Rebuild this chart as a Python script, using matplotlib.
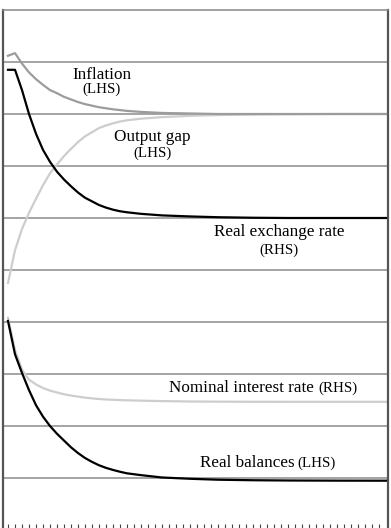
"""
plot.py - impulse responses, five series on a shared stacked panel
"""

import matplotlib
matplotlib.use('Agg')
import matplotlib.pyplot as plt

# periods after the shock
periods = [0, 1, 2, 3, 4, 5, 6, 7, 8, 9, 10, 11, 12, 13, 14, 15, 16, 17,
           19, 22, 26, 30, 35, 40, 47, 54]

# in the panel's own units (gridlines at 1..9)
inflation = [9.12, 9.17, 8.97, 8.80, 8.67, 8.56, 8.46, 8.40, 8.33, 8.28,
             8.23, 8.19, 8.16, 8.13, 8.11, 8.09, 8.075, 8.06,
             8.04, 8.02, 8.01, 8.00, 8.00, 8.00, 8.00, 8.00]
output_gap = [4.75, 5.38, 5.79, 6.10, 6.37, 6.63, 6.86, 7.03, 7.19, 7.33,
              7.46, 7.57, 7.65, 7.73, 7.78, 7.82, 7.855, 7.88,
              7.91, 7.94, 7.965, 7.98, 7.99, 7.995, 8.00, 8.00]
real_exch = [8.85, 8.85, 8.46, 8.00, 7.62, 7.31, 7.08, 6.89, 6.74, 6.61,
             6.49, 6.39, 6.32, 6.25, 6.20, 6.16, 6.13, 6.11,
             6.08, 6.05, 6.03, 6.015, 6.005, 6.00, 6.00, 6.00]
nominal_rate = [4.08, 3.46, 3.08, 2.89, 2.80, 2.73, 2.68, 2.645, 2.61, 2.585,
                2.565, 2.546, 2.531, 2.519, 2.51, 2.504, 2.498, 2.494,
                2.487, 2.479, 2.471, 2.468, 2.466, 2.465, 2.465, 2.465]
real_bal = [4.02, 3.38, 3.02, 2.69, 2.40, 2.18, 2.00, 1.85, 1.72, 1.59,
            1.48, 1.385, 1.31, 1.245, 1.195, 1.155, 1.12, 1.09,
            1.055, 1.01, 0.985, 0.967, 0.957, 0.952, 0.949, 0.948]

grid_levels = [1, 2, 3, 4, 5, 6, 7, 8, 9]
tick_periods = list(range(0, 54))

SERIF = ['Liberation Serif', 'DejaVu Serif']
BIG, SMALL = 12.3, 10.8

fig = plt.figure(figsize=(3.91, 5.28), dpi=100)
ax = fig.add_axes([3 / 391, 0.0, 385 / 391, 518 / 528])

# horizontal guides
for lv in grid_levels:
    ax.axhline(lv, color='#8c8c8c', lw=1.1, zorder=1)

# gray series first, black on top
ax.plot(periods, output_gap, color='#cdcdcd', lw=1.6, zorder=2)
ax.plot(periods, nominal_rate, color='#cdcdcd', lw=1.6, zorder=2)
ax.plot(periods, inflation, color='#9c9c9c', lw=1.6, zorder=3)
ax.plot(periods, real_exch, color='black', lw=1.6, zorder=4)
ax.plot(periods, real_bal, color='black', lw=1.6, zorder=4)

ax.set_xlim(-5 / 7, 380 / 7)
ax.set_ylim(2 / 52, 10)

# labels
ax.text(13.36, 8.75, 'Inflation', family=SERIF, fontsize=BIG, ha='center', va='center')
ax.text(13.29, 8.48, '(LHS)', family=SERIF, fontsize=SMALL, ha='center', va='center')
ax.text(20.64, 7.56, 'Output gap', family=SERIF, fontsize=BIG, ha='center', va='center')
ax.text(20.71, 7.25, '(LHS)', family=SERIF, fontsize=SMALL, ha='center', va='center')
ax.text(38.71, 5.73, 'Real exchange rate', family=SERIF, fontsize=BIG, ha='center', va='center')
ax.text(38.71, 5.385, '(RHS)', family=SERIF, fontsize=SMALL, ha='center', va='center')
ax.text(23.0, 2.73, 'Nominal interest rate', family=SERIF, fontsize=BIG, ha='left', va='center')
ax.text(44.29, 2.73, '(RHS)', family=SERIF, fontsize=SMALL, ha='left', va='center')
ax.text(27.43, 1.29, 'Real balances', family=SERIF, fontsize=BIG, ha='left', va='center')
ax.text(41.4, 1.29, '(LHS)', family=SERIF, fontsize=SMALL, ha='left', va='center')

# frame: dark sides, lighter top, no bottom line
ax.spines['bottom'].set_visible(False)
ax.spines['left'].set_color('#555555')
ax.spines['right'].set_color('#555555')
ax.spines['left'].set_linewidth(1.6)
ax.spines['right'].set_linewidth(1.6)
ax.spines['top'].set_color('#888888')
ax.spines['top'].set_linewidth(1.1)

ax.set_yticks([])
ax.set_xticks(tick_periods)
ax.set_xticklabels([])
ax.tick_params(axis='x', direction='in', length=3, width=0.8, color='#444444')

fig.savefig('out.png', dpi=100)
